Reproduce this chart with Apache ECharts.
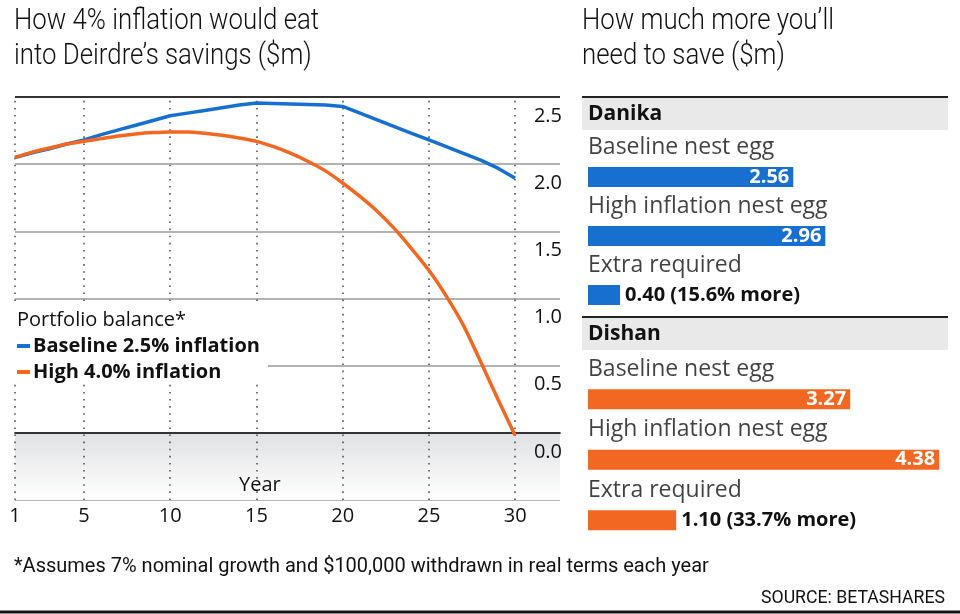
<!DOCTYPE html>
<html><head><meta charset="utf-8">
<script src="https://cdn.jsdelivr.net/npm/echarts@6/dist/echarts.min.js"></script>
<style>html,body{margin:0;padding:0;background:#fff}#c{width:960px;height:614px}</style>
</head><body><div id="c"></div>
<script>
const years = [1,2,3,4,5,6,7,8,9,10,11,12,13,14,15,16,17,18,19,20,21,22,23,24,25,26,27,28,29,30];
const baseline = [2.05,2.085,2.115,2.15,2.18,2.22,2.255,2.29,2.325,2.36,2.38,2.40,2.42,2.44,2.455,2.452,2.448,2.444,2.44,2.43,2.38,2.33,2.28,2.23,2.18,2.13,2.08,2.03,1.97,1.895];
const high = [2.05,2.09,2.12,2.15,2.17,2.19,2.21,2.225,2.235,2.24,2.24,2.23,2.215,2.195,2.17,2.13,2.08,2.02,1.95,1.86,1.76,1.65,1.52,1.37,1.21,1.02,0.80,0.53,0.25,-0.02];
const yearTicks = [1,5,10,15,20,25,30];
const seriesNames = ['Baseline 2.5% inflation','High 4.0% inflation'];
const people = ['Danika','Dishan'];
const barRows = ['Baseline nest egg','High inflation nest egg','Extra required'];
const danikaVals = [2.56,2.96,0.40];
const dishanVals = [3.27,4.38,1.10];
const extraPct = [15.6,33.7];

const BLUE = '#176fd0', ORANGE = '#f26822';
const COND = 'Roboto,sans-serif';
const BODY = '"Open Sans","Noto Sans",sans-serif';

const chart = echarts.init(document.getElementById('c'));

function barSeries(vals, idx, color) {
  return {
    type: 'bar', xAxisIndex: idx+1, yAxisIndex: idx+2, barWidth: 20, silent: true,
    data: vals.map((v,i) => ({
      value: v,
      itemStyle: {color: color},
      label: i < 2 ? {show:true, position:'insideRight', distance:4, color:'#fff', fontFamily:BODY, fontWeight:'bold', fontSize:20, formatter: v.toFixed(2)}
                   : {show:true, position:'right', distance:5, color:'#111', fontFamily:BODY, fontWeight:'bold', fontSize:20, formatter: v.toFixed(2)+' ('+extraPct[idx].toFixed(1)+'% more)'}
    }))
  };
}
function rowLabelSeries(idx) {
  return {
    type: 'scatter', xAxisIndex: idx+1, yAxisIndex: idx+2, symbolSize: 0, silent: true,
    data: barRows.map((r,i)=>[0, i]),
    label: {show:true, position:'right', distance:0, offset:[0,-30], color:'#111', fontFamily:BODY, fontSize:23,
      formatter: p => barRows[p.dataIndex]}
  };
}

const option = {
  animation: false,
  backgroundColor: '#fff',
  grid: [
    {left: 15, right: 400, top: 97, bottom: 114},
    {left: 588, width: 360, top: 147.5, height: 177},
    {left: 588, width: 360, top: 369, height: 181.5}
  ],
  xAxis: [
    {type:'value', gridIndex:0, min:1, max:32.6,
     axisLine:{show:true, lineStyle:{color:'#555', width:2}}, axisTick:{show:false}, splitLine:{show:false},
     axisLabel:{customValues: yearTicks, color:'#111', fontFamily:BODY, fontSize:20, margin:6}},
    {type:'value', gridIndex:1, min:0, max:4.49, show:false},
    {type:'value', gridIndex:2, min:0, max:4.49, show:false}
  ],
  yAxis: [
    {type:'value', gridIndex:0, min:-0.5, max:2.5, interval:0.5, position:'right',
     axisLine:{show:false}, axisTick:{show:false}, axisLabel:{show:false},
     splitLine:{show:true, lineStyle:{color:'#9a9a9a', width:1.5}}},
    {type:'value', gridIndex:0, min:-0.5, max:2.5, interval:0.5, position:'right', z:20,
     axisLine:{show:false}, axisTick:{show:false}, splitLine:{show:false},
     axisLabel:{inside:true, margin:-2, color:'#111', fontFamily:BODY, fontSize:20, verticalAlign:'top', padding:[9,0,0,0],
       formatter: v => v < 0 ? '' : v.toFixed(1)}},
    {type:'category', gridIndex:1, data: barRows, inverse:true, show:false},
    {type:'category', gridIndex:2, data: barRows, inverse:true, show:false}
  ],
  series: [
    {type:'line', name: seriesNames[0], xAxisIndex:0, yAxisIndex:0, showSymbol:false, z:5,
     lineStyle:{color:BLUE, width:3.5}, itemStyle:{color:BLUE},
     data: years.map((y,i)=>[y, baseline[i]]),
     markArea:{silent:true, itemStyle:{color:new echarts.graphic.LinearGradient(0,0,0,1,[{offset:0,color:'#e0e1e3'},{offset:1,color:'#ffffff'}])},
       data:[[{yAxis:0},{yAxis:-0.5}]]},
     markLine:{silent:true, symbol:'none', label:{show:false},
       data: yearTicks.map(y=>({xAxis:y, lineStyle:{color:'#555', width:1.6, type:[1.6,5.5]}}))
         .concat([{yAxis:2.5, lineStyle:{color:'#333', width:2, type:'solid'}},{yAxis:0, lineStyle:{color:'#333', width:2, type:'solid'}}])}
    },
    {type:'line', name: seriesNames[1], xAxisIndex:0, yAxisIndex:0, showSymbol:false, smooth:0.2, z:5,
     lineStyle:{color:ORANGE, width:3.5}, itemStyle:{color:ORANGE},
     data: years.map((y,i)=>[y, high[i]])},
    barSeries(danikaVals, 0, BLUE),
    barSeries(dishanVals, 1, ORANGE),
    rowLabelSeries(0),
    rowLabelSeries(1)
  ],
  graphic: [
    {type:'text', x:14, y:4, scaleX:0.89, z:50, style:{text:'How 4% inflation would eat\ninto Deirdre\u2019s savings ($m)', font:'300 29px '+COND, fill:'#111', lineHeight:35}},
    {type:'text', x:582, y:4, scaleX:0.89, z:50, style:{text:'How much more you\u2019ll\nneed to save ($m)', font:'300 29px '+COND, fill:'#111', lineHeight:35}},
    {type:'rect', z:40, shape:{x:0, y:301, width:268, height:83}, style:{fill:'#fff'}},
    {type:'text', z:50, x:17, y:320, style:{text:'Portfolio balance*', font:'20px '+BODY, fill:'#111', verticalAlign:'middle'}},
    {type:'rect', z:50, shape:{x:17, y:344, width:13, height:4}, style:{fill:BLUE}},
    {type:'text', z:50, x:33, y:346, style:{text:seriesNames[0], font:'bold 20px '+BODY, fill:'#111', verticalAlign:'middle'}},
    {type:'rect', z:50, shape:{x:17, y:370, width:13, height:4}, style:{fill:ORANGE}},
    {type:'text', z:50, x:33, y:372, style:{text:seriesNames[1], font:'bold 20px '+BODY, fill:'#111', verticalAlign:'middle'}},
    {type:'text', z:50, x:239, y:485, style:{text:'Year', font:'20px '+BODY, fill:'#111', verticalAlign:'middle'}},
    {type:'rect', z:40, shape:{x:582, y:98, width:366, height:32}, style:{fill:'#e9e9e9'}},
    {type:'line', z:41, shape:{x1:582, y1:97, x2:948, y2:97}, style:{stroke:'#222', lineWidth:2}},
    {type:'text', z:50, x:588, y:114, style:{text:people[0], font:'bold 21px '+BODY, fill:'#111', verticalAlign:'middle'}},
    {type:'rect', z:40, shape:{x:582, y:318, width:366, height:32}, style:{fill:'#e9e9e9'}},
    {type:'line', z:41, shape:{x1:582, y1:317, x2:948, y2:317}, style:{stroke:'#222', lineWidth:2}},
    {type:'text', z:50, x:588, y:334, style:{text:people[1], font:'bold 21px '+BODY, fill:'#111', verticalAlign:'middle'}},
    {type:'text', z:50, x:14, y:567, style:{text:'*Assumes 7% nominal growth and $100,000 withdrawn in real terms each year', font:'20px '+COND, fill:'#111', verticalAlign:'middle'}},
    {type:'text', z:50, x:945, y:598, scaleX:0.93, style:{text:'SOURCE: BETASHARES', font:'19px '+COND, fill:'#111', verticalAlign:'middle', align:'right'}},
    {type:'line', z:41, shape:{x1:0, y1:612, x2:960, y2:612}, style:{stroke:'#111', lineWidth:3}}
  ]
};
chart.setOption(option);
</script></body></html>
